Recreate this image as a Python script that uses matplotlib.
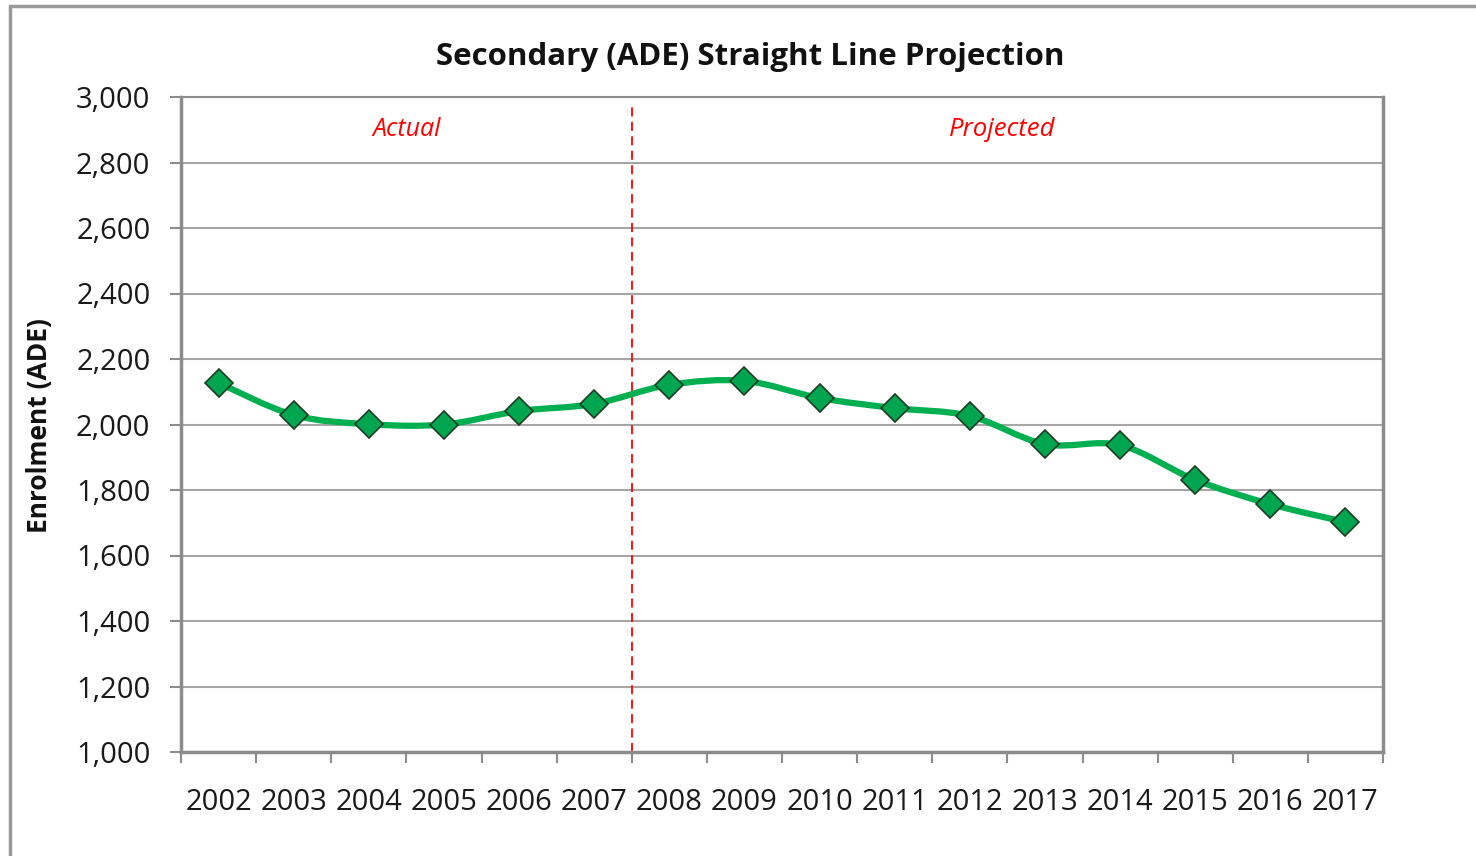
import numpy as np
import matplotlib.pyplot as plt
from matplotlib.path import Path
from matplotlib.patches import PathPatch, Rectangle

plt.rcParams['font.family'] = ['Open Sans', 'DejaVu Sans']

years = ['2002', '2003', '2004', '2005', '2006', '2007', '2008', '2009',
         '2010', '2011', '2012', '2013', '2014', '2015', '2016', '2017']
enrolment = [2127, 2029, 2001, 2000, 2041, 2063, 2121, 2133,
             2081, 2050, 2026, 1940, 1937, 1831, 1757, 1702]
yticks = list(range(1000, 3001, 200))

green = '#00B050'
grey = '#8c8c8c'

fig = plt.figure(figsize=(14.76, 8.56), dpi=100)
# outer chart frame (cut off on the right and bottom like the screenshot)
fig.patches.append(Rectangle((10 / 1476, -0.05), 1.1, (856 - 6) / 856 + 0.05,
                             transform=fig.transFigure, fill=False,
                             edgecolor='#9a9a9a', linewidth=2.5))

ax = fig.add_axes([181 / 1476, (856 - 752) / 856, 1202 / 1476, 655 / 856])

x = np.arange(len(years))
y = np.array(enrolment, dtype=float)

# smoothed line, catmull-rom turned into bezier segments
pts = np.column_stack([x, y])
verts = [pts[0]]
codes = [Path.MOVETO]
for i in range(len(pts) - 1):
    p0 = pts[max(i - 1, 0)]
    p1 = pts[i]
    p2 = pts[i + 1]
    p3 = pts[min(i + 2, len(pts) - 1)]
    c1 = p1 + (p2 - p0) / 6
    c2 = p2 - (p3 - p1) / 6
    verts += [c1, c2, p2]
    codes += [Path.CURVE4] * 3
ax.add_patch(PathPatch(Path(verts, codes), fill=False, edgecolor=green,
                       linewidth=4.5, capstyle='round', joinstyle='round', zorder=3))
ax.plot(x, y, linestyle='none', marker='D', markersize=14,
        markerfacecolor='#00A550', markeredgecolor='#1f3d24', markeredgewidth=1.2, zorder=4)

ax.axvline(5.5, ymin=0, ymax=0.988, color='red', linestyle=(0, (5, 3)), linewidth=1.3, zorder=2)
ax.text(2.5, 2900, 'Actual', color='red', style='italic', fontsize=18,
        ha='center', va='center')
ax.text(10.43, 2900, 'Projected', color='red', style='italic', fontsize=18.5,
        ha='center', va='center')

ax.set_xlim(-0.5, 15.5)
ax.set_ylim(1000, 3000)
ax.set_yticks(yticks)
ax.set_yticklabels([f'{v:,}' for v in yticks])
ax.set_xticks(x)
ax.set_xticklabels(years)
ax.set_xticks(np.arange(-0.5, 16, 1), minor=True)
ax.tick_params(axis='x', which='major', length=0, pad=26, labelsize=21, colors='#1a1a1a')
ax.tick_params(axis='x', which='minor', length=8, width=1.5, color=grey)
ax.tick_params(axis='y', length=8, width=1.5, color=grey, pad=14, labelsize=21,
               labelcolor='#1a1a1a')

ax.grid(axis='y', color='#a6a6a6', linewidth=1.5)
ax.set_axisbelow(True)
for s in ax.spines.values():
    s.set_color(grey)
    s.set_linewidth(2.5)
ax.spines['top'].set_linewidth(1.5)

fig.text(750 / 1476, 1 - 57 / 856, 'Secondary (ADE) Straight Line Projection',
         fontsize=22.5, fontweight='bold', ha='center', va='center', color='#111111')
fig.text(40 / 1476, 1 - 426 / 856, 'Enrolment (ADE)', rotation=90, fontsize=19,
         fontweight='bold', ha='center', va='center', color='#111111')

fig.savefig('out.png', dpi=100)
